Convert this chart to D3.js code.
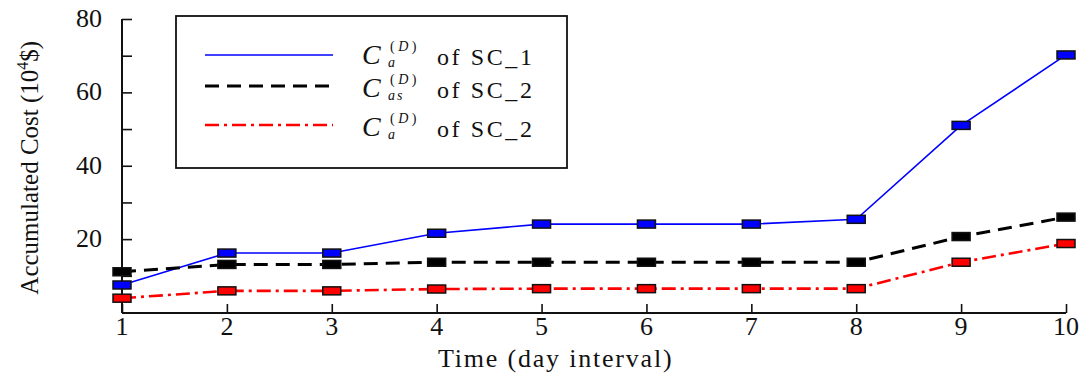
<!DOCTYPE html>
<html>
<head>
<meta charset="utf-8">
<script src="https://cdn.jsdelivr.net/npm/d3@7"></script>
<style>
    body { margin: 0; background: #fff; }
    svg text { font-family: "Liberation Serif", "Times New Roman", serif; fill: #111; }
</style>
</head>
<body>
<div id="chart"></div>
<script>
// data
let days = [1, 2, 3, 4, 5, 6, 7, 8, 9, 10]
let ca_sc1 = [7.5, 16.2, 16.2, 21.6, 24.1, 24.1, 24.1, 25.4, 51.0, 70.2]
let cas_sc2 = [11.1, 13.1, 13.1, 13.7, 13.7, 13.7, 13.7, 13.7, 20.7, 26.0]
let ca_sc2 = [3.9, 5.9, 5.9, 6.4, 6.5, 6.5, 6.5, 6.5, 13.7, 18.8]
let yMajorTicks = [20, 40, 60, 80]
let yMinorTicks = [10, 30, 50, 70]

let series = [
    { name: 'sc1', sub: 'a', label: 'of SC_1', values: ca_sc1, color: '#0000ff', width: 1.6, dash: null },
    { name: 'sc2s', sub: 'as', label: 'of SC_2', values: cas_sc2, color: '#000', width: 3, dash: '14,8' },
    { name: 'sc2', sub: 'a', label: 'of SC_2', values: ca_sc2, color: '#ff0000', width: 2.6, dash: '14,5,3,5' }
]
let markerFill = { sc1: '#0000ff', sc2s: '#000', sc2: '#ff0000' }

let svgWidth = 1091
let svgHeight = 381
let padding = { left: 122, right: 25, top: 19, bottom: 68 }

let svg = d3.select('#chart').append('svg')
    .attr('width', svgWidth)
    .attr('height', svgHeight)
    .attr('font-family', 'Liberation Serif')

let x = d3.scaleLinear()
    .domain([1, 10])
    .range([padding.left, svgWidth - padding.right])
let y = d3.scaleLinear()
    .domain([0, 80])
    .range([svgHeight - padding.bottom - 0.5, padding.top])

let axisY = svgHeight - padding.bottom

// x axis, ticks inward
let axis_x = d3.axisTop(x)
    .tickValues(days)
    .tickSize(9)
    .tickFormat('')
let gx = svg.append('g')
    .attr('transform', `translate(0, ${axisY})`)
    .call(axis_x)
gx.select('.domain').attr('d', `M${x(1)},0H${x(10)}`).attr('stroke-width', 2).attr('stroke', '#111')
gx.selectAll('.tick line').attr('stroke-width', 1.6).attr('stroke', '#111')
svg.append('g')
    .selectAll('text')
    .data(days)
    .enter()
    .append('text')
    .attr('x', d => x(d))
    .attr('y', axisY + 22)
    .attr('text-anchor', 'middle')
    .attr('font-size', 26)
    .text(d => d)

// y axis, ticks inward
let axis_y = d3.axisRight(y)
    .tickValues(yMajorTicks.concat(yMinorTicks))
    .tickSize(10)
    .tickFormat('')
let gy = svg.append('g')
    .attr('transform', `translate(${padding.left}, 0)`)
    .call(axis_y)
gy.select('.domain').attr('d', `M0,${axisY}V${y(80)}`).attr('stroke-width', 2).attr('stroke', '#111')
gy.selectAll('.tick line').attr('stroke-width', 1.6).attr('stroke', '#111')
svg.append('g')
    .selectAll('text')
    .data(yMajorTicks)
    .enter()
    .append('text')
    .attr('x', padding.left - 20)
    .attr('y', d => y(d) + 8)
    .attr('text-anchor', 'end')
    .attr('font-size', 26)
    .text(d => d)

// axis labels
svg.append('text')
    .attr('x', 438)
    .attr('y', 367)
    .attr('font-size', 26)
    .attr('letter-spacing', 1.8)
    .text('Time (day interval)')

let ylab = svg.append('text')
    .attr('transform', `translate(38, ${(y(0) + y(80)) / 2 + 2}) rotate(-90)`)
    .attr('text-anchor', 'middle')
    .attr('font-size', 25)
ylab.append('tspan').text('Accumulated Cost (10')
ylab.append('tspan').attr('font-size', 16).attr('dy', -10).text('4')
ylab.append('tspan').attr('dy', 10).text('$)')

// lines
let line = d3.line()
    .x((d, i) => x(days[i]))
    .y(d => y(d))

series.forEach(s => {
    svg.append('path')
        .datum(s.values)
        .attr('fill', 'none')
        .attr('stroke', s.color)
        .attr('stroke-width', s.width)
        .attr('stroke-dasharray', s.dash)
        .attr('d', line)
})

// markers
series.forEach(s => {
    svg.append('g')
        .selectAll('rect')
        .data(s.values)
        .enter()
        .append('rect')
        .attr('x', (d, i) => x(days[i]) - 9)
        .attr('y', d => y(d) - 4)
        .attr('width', 18)
        .attr('height', 8)
        .attr('fill', markerFill[s.name])
        .attr('stroke', '#111')
        .attr('stroke-width', 1.5)
})

// legend
let legend = svg.append('g')
legend.append('rect')
    .attr('x', 176)
    .attr('y', 16)
    .attr('width', 391)
    .attr('height', 152)
    .attr('fill', '#fff')
    .attr('stroke', '#111')
    .attr('stroke-width', 1.8)

let legendRows = [55, 86, 125]
let legendBase = [65, 98, 137]
series.forEach((s, i) => {
    let ly = legendRows[i]
    legend.append('line')
        .attr('x1', 205).attr('x2', 333)
        .attr('y1', ly).attr('y2', ly)
        .attr('stroke', s.color)
        .attr('stroke-width', s.width)
        .attr('stroke-dasharray', s.dash)
    let base = legendBase[i]
    legend.append('text')
        .attr('x', 362).attr('y', base - 1)
        .attr('font-size', 28)
        .attr('font-style', 'italic')
        .text('C')
    let sup = legend.append('text')
        .attr('x', 390).attr('y', base - 14)
        .attr('font-size', 14)
        .attr('letter-spacing', 3.5)
    sup.append('tspan').text('(')
    sup.append('tspan').attr('font-style', 'italic').text('D')
    sup.append('tspan').text(')')
    legend.append('text')
        .attr('x', 388).attr('y', base + 2)
        .attr('font-size', 14)
        .attr('font-style', 'italic')
        .attr('letter-spacing', 2)
        .text(s.sub)
    legend.append('text')
        .attr('x', 437).attr('y', base)
        .attr('font-size', 24)
        .attr('letter-spacing', 2.6)
        .text(s.label)
})
</script>
</body>
</html>
